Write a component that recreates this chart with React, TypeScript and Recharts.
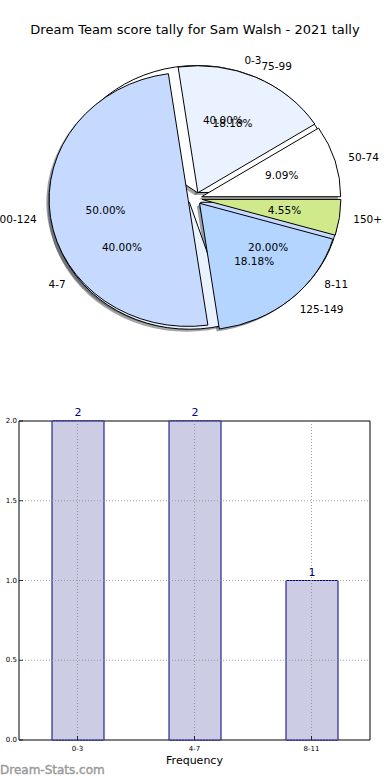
import React from 'react';
import {
  PieChart,
  Pie,
  Cell,
  BarChart,
  Bar,
  XAxis,
  YAxis,
  ReferenceLine,
  ReferenceArea,
  LabelList,
  Label,
} from 'recharts';

// ---- Data ----
const scoreRanges = ['50-74', '75-99', '100-124', '125-149', '150+'];
const scoreCounts = [2, 4, 11, 4, 1];
const scoreColors = ['#ffffff', '#eaf2ff', '#c6d9ff', '#b4d5ff', '#cfe98b'];

const freqRanges = ['0-3', '4-7', '8-11'];
const freqCounts = [2, 2, 1];
const freqColors = ['#ffffff', '#eaf2ff', '#c6d9ff'];

const yTicks = [0, 0.5, 1, 1.5, 2];

const titleText = 'Dream Team score tally for Sam Walsh - 2021 tally';
const xAxisTitle = 'Frequency';
const watermark = 'Dream-Stats.com';

// ---- Style constants ----
const FONT = '"DejaVu Sans", Verdana, sans-serif';
const EXPLODE = 0.05;
const Y_RATIO = 127 / 139;
const SHADOW_OFF = 0.02;
const RAD = Math.PI / 180;

const scoreData = scoreRanges.map((name, i) => ({ name, value: scoreCounts[i] }));
const freqData = freqRanges.map((name, i) => ({ name, value: freqCounts[i] }));
const barData = freqRanges.map((range, i) => ({ range, count: freqCounts[i] }));

function darken(hex: string): string {
  const h = hex.replace('#', '');
  const r = Math.round(parseInt(h.slice(0, 2), 16) * 0.3);
  const g = Math.round(parseInt(h.slice(2, 4), 16) * 0.3);
  const b = Math.round(parseInt(h.slice(4, 6), 16) * 0.3);
  return `rgb(${r},${g},${b})`;
}

function wedgePath(cx: number, cy: number, rx: number, ry: number, s: number, e: number) {
  const x1 = cx + rx * Math.cos(s * RAD);
  const y1 = cy - ry * Math.sin(s * RAD);
  const x2 = cx + rx * Math.cos(e * RAD);
  const y2 = cy - ry * Math.sin(e * RAD);
  const large = Math.abs(e - s) > 180 ? 1 : 0;
  return `M${cx},${cy} L${x1},${y1} A${rx},${ry} 0 ${large} 0 ${x2},${y2} Z`;
}

const makeWedge = (shadow: boolean) => (props: any) => {
  const { cx, cy, outerRadius, startAngle, endAngle, fill } = props;
  const mid = (startAngle + endAngle) / 2;
  const rx = outerRadius;
  const ry = outerRadius * Y_RATIO;
  let ox = cx + EXPLODE * rx * Math.cos(mid * RAD);
  let oy = cy - EXPLODE * ry * Math.sin(mid * RAD);
  if (shadow) {
    ox -= SHADOW_OFF * rx;
    oy += SHADOW_OFF * ry;
  }
  return (
    <path
      d={wedgePath(ox, oy, rx, ry, startAngle, endAngle)}
      fill={shadow ? darken(fill) : fill}
      fillOpacity={shadow ? 0.5 : 1}
      stroke={shadow ? 'none' : '#000'}
      strokeWidth={1}
      strokeLinejoin="round"
    />
  );
};

const emptyShape = () => <g />;

const renderPieLabels = (props: any) => {
  const { cx, cy, outerRadius, startAngle, endAngle, percent, name } = props;
  const mid = (startAngle + endAngle) / 2;
  const c = Math.cos(mid * RAD);
  const s = Math.sin(mid * RAD);
  const rx = outerRadius;
  const ry = outerRadius * Y_RATIO;
  const lx = cx + (EXPLODE + 1.1) * rx * c;
  const ly = cy - (EXPLODE + 1.1) * ry * s;
  const px = cx + (EXPLODE + 0.6) * rx * c;
  const py = cy - (EXPLODE + 0.6) * ry * s;
  return (
    <g>
      <text
        x={lx}
        y={ly}
        textAnchor={c > 0 ? 'start' : 'end'}
        dominantBaseline="central"
        fontFamily={FONT}
        fontSize={10.5}
        fill="#000"
      >
        {name}
      </text>
      <text
        x={px}
        y={py}
        textAnchor="middle"
        dominantBaseline="central"
        fontFamily={FONT}
        fontSize={10.5}
        fill="#000"
      >
        {(percent * 100).toFixed(2)}%
      </text>
    </g>
  );
};

const XTick = (props: any) => {
  const { x, y, payload } = props;
  return (
    <g>
      <line x1={x} x2={x} y1={y} y2={y - 4} stroke="#000" strokeWidth={0.8} />
      <text x={x} y={y + 9} textAnchor="middle" dominantBaseline="central" fontFamily={FONT} fontSize={7} fill="#000">
        {payload.value}
      </text>
    </g>
  );
};

const YTick = (props: any) => {
  const { x, y, payload } = props;
  return (
    <g>
      <line x1={x} x2={x + 4} y1={y} y2={y} stroke="#000" strokeWidth={0.8} />
      <text x={x - 2} y={y} textAnchor="end" dominantBaseline="central" fontFamily={FONT} fontSize={7} fill="#000">
        {Number(payload.value).toFixed(1)}
      </text>
    </g>
  );
};

const PIE_CX = 195;
const PIE_CY = 198.5;
const PIE_R = 139;

export default function App() {
  const pieCommon = {
    dataKey: 'value',
    nameKey: 'name',
    cx: PIE_CX,
    cy: PIE_CY,
    outerRadius: PIE_R,
    startAngle: 0,
    endAngle: 360,
    isAnimationActive: false,
    labelLine: false,
    paddingAngle: 0,
  } as any;

  const shadowShape = makeWedge(true);
  const wedgeShape = makeWedge(false);

  return (
    <div style={{ position: 'absolute', left: 0, top: 0, width: 390, height: 780, background: '#fff' }}>
      <div
        style={{
          position: 'absolute',
          left: 0,
          top: 21,
          width: 390,
          textAlign: 'center',
          fontFamily: FONT,
          fontSize: 13,
          lineHeight: '18px',
          color: '#000',
        }}
      >
        {titleText}
      </div>
      <div style={{ position: 'absolute', left: 0, top: 0 }}>
        <PieChart width={390} height={390} margin={{ top: 0, right: 0, bottom: 0, left: 0 }}>
          {/* shadows */}
          <Pie {...pieCommon} data={freqData} shape={shadowShape} activeShape={shadowShape} inactiveShape={shadowShape} label={false}>
            {freqColors.map((c, i) => (
              <Cell key={i} fill={c} />
            ))}
          </Pie>
          <Pie {...pieCommon} data={scoreData} shape={shadowShape} activeShape={shadowShape} inactiveShape={shadowShape} label={false}>
            {scoreColors.map((c, i) => (
              <Cell key={i} fill={c} />
            ))}
          </Pie>
          {/* wedges */}
          <Pie {...pieCommon} data={freqData} shape={wedgeShape} activeShape={wedgeShape} inactiveShape={wedgeShape} label={false}>
            {freqColors.map((c, i) => (
              <Cell key={i} fill={c} />
            ))}
          </Pie>
          <Pie {...pieCommon} data={scoreData} shape={wedgeShape} activeShape={wedgeShape} inactiveShape={wedgeShape} label={false}>
            {scoreColors.map((c, i) => (
              <Cell key={i} fill={c} />
            ))}
          </Pie>
          {/* labels */}
          <Pie {...pieCommon} data={scoreData} shape={emptyShape} activeShape={emptyShape} inactiveShape={emptyShape} label={renderPieLabels} fill="none" stroke="none" />
          <Pie {...pieCommon} data={freqData} shape={emptyShape} activeShape={emptyShape} inactiveShape={emptyShape} label={renderPieLabels} fill="none" stroke="none" />
        </PieChart>
      </div>
      <div style={{ position: 'absolute', left: 0, top: 400 }}>
        <BarChart width={390} height={380} data={barData} margin={{ top: 21, right: 20, left: 0, bottom: 0 }}>
          <XAxis
            dataKey="range"
            height={40}
            tickLine={false}
            axisLine={false}
            tickSize={0}
            tickMargin={0}
            interval={0}
            tick={<XTick />}
          >
            <Label value={xAxisTitle} position="insideBottom" offset={16} fontFamily={FONT} fontSize={11} fill="#000" />
          </XAxis>
          <YAxis
            width={19}
            domain={[0, 2]}
            ticks={yTicks}
            tickLine={false}
            axisLine={false}
            tickSize={0}
            tickMargin={0}
            interval={0}
            tick={<YTick />}
          />
          <Bar dataKey="count" fill="#ccccE4" stroke="#000080" strokeWidth={1} barSize={52} isAnimationActive={false}>
            <LabelList dataKey="count" position="top" offset={5} fill="#000080" fontFamily={FONT} fontSize={11} />
          </Bar>
          {yTicks.map((t) => (
            <ReferenceLine key={'y' + t} y={t} stroke="#8c8c8c" strokeWidth={0.8} strokeDasharray="1 2" />
          ))}
          {freqRanges.map((r) => (
            <ReferenceLine key={'x' + r} x={r} stroke="#8c8c8c" strokeWidth={0.8} strokeDasharray="1 2" />
          ))}
          <ReferenceArea y1={0} y2={2} fill="none" fillOpacity={0} stroke="#000" strokeWidth={1} />
        </BarChart>
      </div>
      <div
        style={{
          position: 'absolute',
          left: 0,
          top: 762,
          fontFamily: FONT,
          fontSize: 12,
          lineHeight: '16px',
          color: '#9a9a9a',
          fontWeight: 'normal',
          WebkitTextStroke: '0.4px #9a9a9a',
        }}
      >
        {watermark}
      </div>
    </div>
  );
}
